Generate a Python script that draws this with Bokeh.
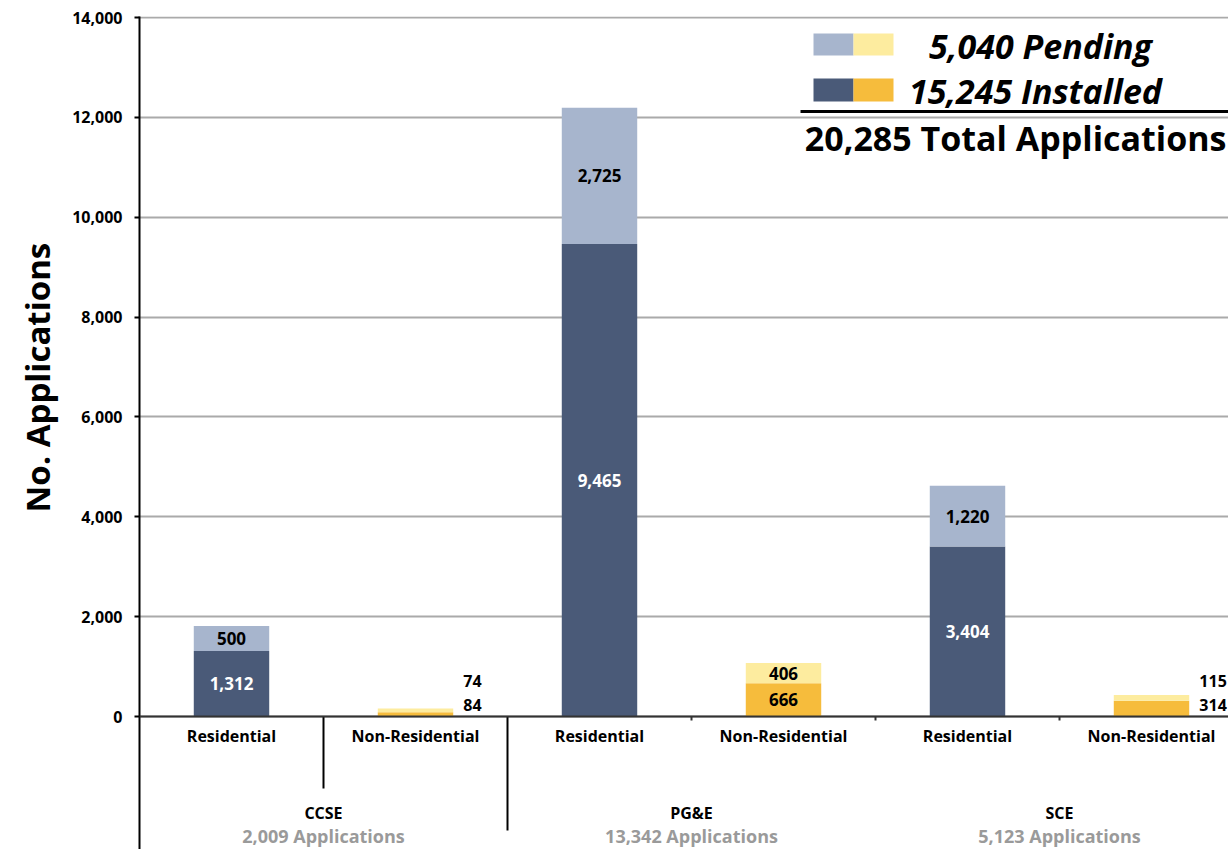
from bokeh.plotting import figure
from bokeh.models import Range1d, FixedTicker, NumeralTickFormatter, Span, Title
from bokeh.core.properties import value
from bokeh.embed import file_html
from bokeh.resources import INLINE

# ---------------- data ----------------
utilities = ["CCSE", "PG&E", "SCE"]
utility_totals = ["2,009 Applications", "13,342 Applications", "5,123 Applications"]
sectors = ["Residential", "Non-Residential"]
installed = [1312, 84, 9465, 666, 3404, 314]
pending = [500, 74, 2725, 406, 1220, 115]
y_ticks = [0, 2000, 4000, 6000, 8000, 10000, 12000, 14000]

# ---------------- styles ----------------
FONT = "Open Sans"
RES_INST, RES_PEND = "#4a5a78", "#a7b5cd"
NON_INST, NON_PEND = "#f6bc3c", "#fdec9f"

W, H = 1228, 849
LEFT, TOP = 139, 16
SLOT_PX = 184.0
Y_PER_PX = 14000 / 699.0
PAGE_X0, PAGE_Y0 = 139, 716  # pixel position of data (0, 0)

def X(px):
    return (px - PAGE_X0) / SLOT_PX

def Y(py):
    return (PAGE_Y0 - py) * Y_PER_PX

x_end = X(W)
y_end = Y(TOP)
y_start = Y(H)

p = figure(width=W, height=H, x_range=Range1d(0, x_end), y_range=Range1d(y_start, y_end),
           output_backend="svg", toolbar_location=None, x_axis_location=None,
           min_border_left=LEFT, min_border_right=0, min_border_top=TOP, min_border_bottom=0)
p.outline_line_color = None
p.background_fill_color = "white"
p.border_fill_color = "white"

# y axis
ax = p.yaxis[0]
ax.ticker = FixedTicker(ticks=y_ticks)
ax.formatter = NumeralTickFormatter(format="0,0")
ax.major_label_text_font = FONT
ax.major_label_text_font_style = "bold"
ax.major_label_text_font_size = "16px"
ax.major_label_text_color = "black"
ax.axis_line_color = "black"
ax.axis_line_width = 2
ax.major_tick_line_color = "black"
ax.major_tick_line_width = 2
ax.major_tick_out = 5
ax.major_tick_in = 0
ax.minor_tick_line_color = None
ax.major_label_standoff = 12

# y axis title: bottom-aligned, lifted so that it ends where the reference's does
p.add_layout(Title(text="No. Applications", align="left", offset=H - 512,
                   text_font=FONT, text_font_style="bold", text_font_size="33px",
                   text_color="black", standoff=19), "left")

p.xgrid.visible = False
p.ygrid.grid_line_color = "#aaaaaa"
p.ygrid.grid_line_width = 2

# bars
n = len(installed)
xs = [i + 0.5 for i in range(n)]
is_res = [i % 2 == 0 for i in range(n)]
inst_col = [RES_INST if r else NON_INST for r in is_res]
pend_col = [RES_PEND if r else NON_PEND for r in is_res]
tops = [a + b for a, b in zip(installed, pending)]
BW = 0.41
p.vbar(x=xs, width=BW, bottom=0, top=installed, fill_color=inst_col, line_color=None)
p.vbar(x=xs, width=BW, bottom=installed, top=tops, fill_color=pend_col, line_color=None)

p.add_layout(Span(location=0, dimension="width", line_color="#333333", line_width=2))

# value labels
in_x, in_y, in_t, in_c = [], [], [], []
out_x, out_y, out_t, out_off = [], [], [], []
for i in range(n):
    segs = [(0, installed[i], "white" if is_res[i] else "black"),
            (installed[i], tops[i], "black")]
    small = any((t - b) / Y_PER_PX < 15 for b, t, _ in segs)
    if small:
        out_x += [xs[i] + BW / 2 + 0.055] * 2
        out_y += [0, 0]
        out_t += [f"{installed[i]:,}", f"{pending[i]:,}"]
        out_off += [-12, -36]
    else:
        for b, t, c in segs:
            in_x.append(xs[i]); in_y.append((b + t) / 2)
            in_t.append(f"{t - b:,}"); in_c.append(c)

p.text(x=in_x, y=in_y, text=in_t, text_color=in_c, text_align="center", text_baseline="middle",
       text_font=value(FONT), text_font_style="bold", text_font_size="17px")
p.text(x=out_x, y=out_y, text=out_t, y_offset=out_off, text_color="black", text_align="left",
       text_baseline="middle", text_font=value(FONT), text_font_style="bold", text_font_size="16px")

# category labels
p.text(x=xs, y=[0] * n, text=[sectors[i % 2] for i in range(n)], y_offset=19,
       text_align="center", text_baseline="middle", text_font=value(FONT),
       text_font_style="bold", text_font_size="16px", text_color="black")

# group separators
p.segment(x0=[1, 2], y0=[0, 0], x1=[1, 2], y1=[Y(788), Y(830)], line_color="black", line_width=2)
p.segment(x0=[3, 4, 5], y0=[0, 0, 0], x1=[3, 4, 5], y1=[Y(720)] * 3, line_color="#333333", line_width=2)

gx = [2 * g + 1 for g in range(len(utilities))]
p.text(x=gx, y=[Y(812)] * 3, text=utilities, text_align="center", text_baseline="middle",
       text_font=value(FONT), text_font_style="bold", text_font_size="16px", text_color="black")
p.text(x=gx, y=[Y(835)] * 3, text=utility_totals, text_align="center", text_baseline="middle",
       text_font=value(FONT), text_font_style="bold", text_font_size="18px", text_color="#9a9a9a")

# legend block
p.quad(left=[X(813), X(853)], right=[X(853), X(893)], top=Y(33), bottom=Y(55),
       fill_color=[RES_PEND, NON_PEND], line_color=None)
p.quad(left=[X(813), X(853)], right=[X(853), X(893)], top=Y(78), bottom=Y(101),
       fill_color=[RES_INST, NON_INST], line_color=None)
p.text(x=[X(1040)], y=[Y(45)], text=[f"{sum(pending):,} Pending"], text_align="center",
       text_baseline="middle", text_font=value(FONT), text_font_style="bold italic",
       text_font_size="34px", text_color="black")
p.text(x=[X(1035)], y=[Y(90)], text=[f"{sum(installed):,} Installed"], text_align="center",
       text_baseline="middle", text_font=value(FONT), text_font_style="bold italic",
       text_font_size="34px", text_color="black")
p.segment(x0=[X(800)], y0=[Y(111)], x1=[X(1228)], y1=[Y(111)], line_color="black", line_width=3)
p.text(x=[X(1226)], y=[Y(137)], text=[f"{sum(tops):,} Total Applications"], text_align="right",
       text_baseline="middle", text_font=value(FONT), text_font_style="bold",
       text_font_size="34px", text_color="black")

open("out.html", "w").write(file_html(p, INLINE))
